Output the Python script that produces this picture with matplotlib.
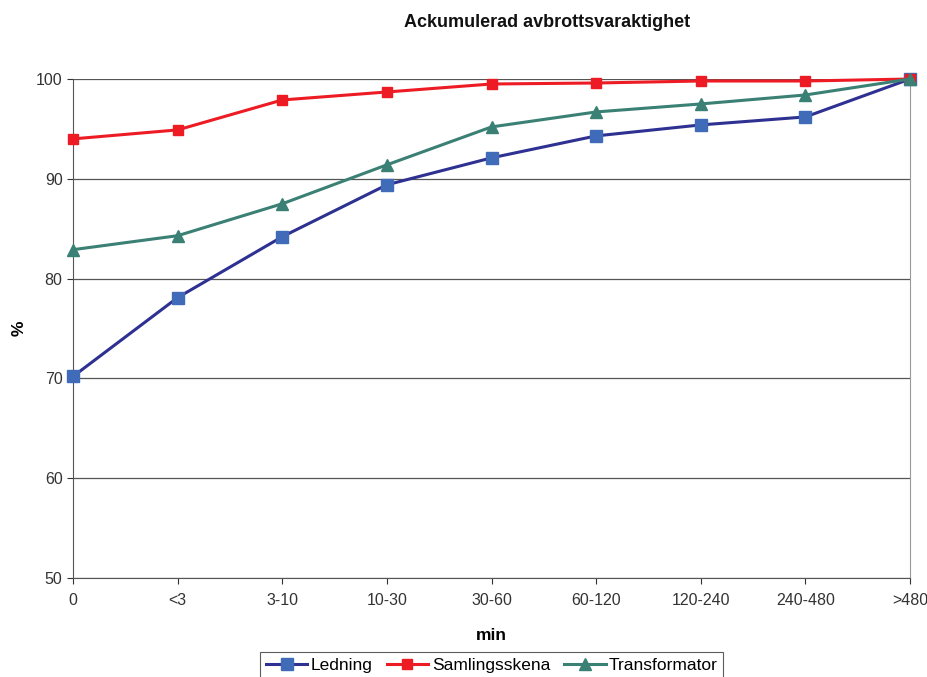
import matplotlib
matplotlib.use("Agg")
import matplotlib.pyplot as plt

categories = ["0", "<3", "3-10", "10-30", "30-60", "60-120", "120-240", "240-480", ">480"]
ledning = [70.2, 78.1, 84.2, 89.4, 92.1, 94.3, 95.4, 96.2, 100.0]
samlingsskena = [94.0, 94.9, 97.9, 98.7, 99.5, 99.6, 99.8, 99.8, 100.0]
transformator = [82.9, 84.3, 87.5, 91.4, 95.2, 96.7, 97.5, 98.4, 100.0]
yticks = [50, 60, 70, 80, 90, 100]

plt.rcParams['font.family'] = ['Liberation Sans', 'DejaVu Sans']

fig = plt.figure(figsize=(9.28, 6.77), dpi=100)
ax = fig.add_axes([0.0787, 0.1462, 0.9019, 0.7371])

x = list(range(len(categories)))
ax.plot(x, ledning, color="#2E3192", lw=2.2, marker="s", ms=9,
        mfc="#3F6BB8", mec="#3F6BB8", label="Ledning", zorder=3, clip_on=False)
ax.plot(x, samlingsskena, color="#ED1C24", lw=2.2, marker="s", ms=7,
        mfc="#ED1C24", mec="#ED1C24", label="Samlingsskena", zorder=4, clip_on=False)
ax.plot(x, transformator, color="#3A8074", lw=2.2, marker="^", ms=9,
        mfc="#3A8074", mec="#3A8074", label="Transformator", zorder=5, clip_on=False)

ax.set_xlim(0, len(categories) - 1)
ax.set_ylim(50, 100)
ax.set_yticks(yticks)
ax.set_xticks(x)
ax.set_xticklabels(categories)
ax.yaxis.grid(True, color="#555555", lw=0.9)
ax.set_axisbelow(True)
ax.spines["top"].set_visible(False)
ax.spines["right"].set_color("#999999")
ax.spines["left"].set_color("#555555")
ax.spines["bottom"].set_color("#555555")
ax.tick_params(colors="#333333", labelsize=11.5, length=4, width=0.8)
ax.tick_params(axis="x", pad=7)

fig.text(0.59, 0.967, "Ackumulerad avbrottsvaraktighet", fontsize=13,
         fontweight="bold", ha="center", va="center", color="#111111")
ax.set_xlabel("min", fontsize=12.5, fontweight="bold", labelpad=14)
ax.set_ylabel("%", fontsize=12.5, fontweight="bold")
ax.yaxis.set_label_coords(-0.055, 0.5)

leg = fig.legend(loc="lower center", bbox_to_anchor=(0.530, -0.014), ncol=3,
                 frameon=True, fancybox=False, edgecolor="#333333",
                 fontsize=12.5, handlelength=2.4, handletextpad=0.2,
                 columnspacing=0.8, borderpad=0.3)
leg.get_frame().set_linewidth(0.8)

fig.savefig("out.png", dpi=100)
